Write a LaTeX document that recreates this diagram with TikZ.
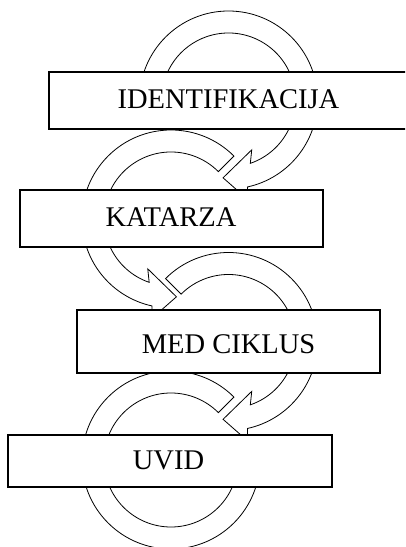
\documentclass[tikz,border=0pt]{standalone}
\usepackage{fontspec}
\setmainfont{Liberation Serif}
\begin{document}
\begin{tikzpicture}[x=1pt,y=1pt,
  ringarrow/.style={draw=black, fill=white, line width=0.8pt, line join=miter},
  stagebox/.style={draw=black, fill=white, line width=1.1pt, inner sep=0pt},
  stagelabel/.style={font=\fontsize{28.5}{32}\selectfont, anchor=base, inner sep=0pt}]
\clip (0,0) rectangle (405,547);

% ring around the first stage, clockwise, head at the bottom
\begin{scope}[shift={(228.5,447)}]
  \draw[ringarrow] (180:89) arc[start angle=180, end angle=-77.6, radius=89]
    -- (-79.2:101) -- (-94:78) -- (-65:55) -- (-71:67)
    arc[start angle=-71, end angle=180, radius=67] -- cycle;
\end{scope}

% ring around the second stage, counter-clockwise
\begin{scope}[shift={(171,328)}]
  \draw[ringarrow] (45:89) arc[start angle=45, end angle=257.6, radius=89]
    -- (259.2:101) -- (274:78) -- (245:55) -- (251:67)
    arc[start angle=251, end angle=45, radius=67] -- cycle;
\end{scope}

% ring around the third stage, clockwise
\begin{scope}[shift={(228.5,205.5)}]
  \draw[ringarrow] (135:89) arc[start angle=135, end angle=-77.6, radius=89]
    -- (-79.2:101) -- (-94:78) -- (-65:55) -- (-71:67)
    arc[start angle=-71, end angle=135, radius=67] -- cycle;
\end{scope}

% ring around the last stage, counter-clockwise, end hidden under the box
\begin{scope}[shift={(171,87)}]
  \draw[ringarrow] (45:89) arc[start angle=45, end angle=360, radius=89]
    -- (0:67) arc[start angle=360, end angle=45, radius=67] -- cycle;
\end{scope}

% stage boxes
\node[stagebox, minimum width=359pt, minimum height=57pt] (identbox) at (228.5,446.5) {};
\node[stagebox, minimum width=303pt, minimum height=57pt] (katbox) at (171.5,328.5) {};
\node[stagebox, minimum width=303pt, minimum height=63pt] (medbox) at (228.5,205.5) {};
\node[stagebox, minimum width=324pt, minimum height=52pt] (uvidbox) at (170,86) {};

% stage labels
\node[stagelabel] (ident) at (228.5,438.7) {IDENTIFIKACIJA};
\node[stagelabel] (kat) at (171,320.3) {KATARZA};
\node[stagelabel] (med) at (228.5,193.7) {MED CIKLUS};
\node[stagelabel] (uvid) at (168.5,77.7) {UVID};
\end{tikzpicture}
\end{document}
